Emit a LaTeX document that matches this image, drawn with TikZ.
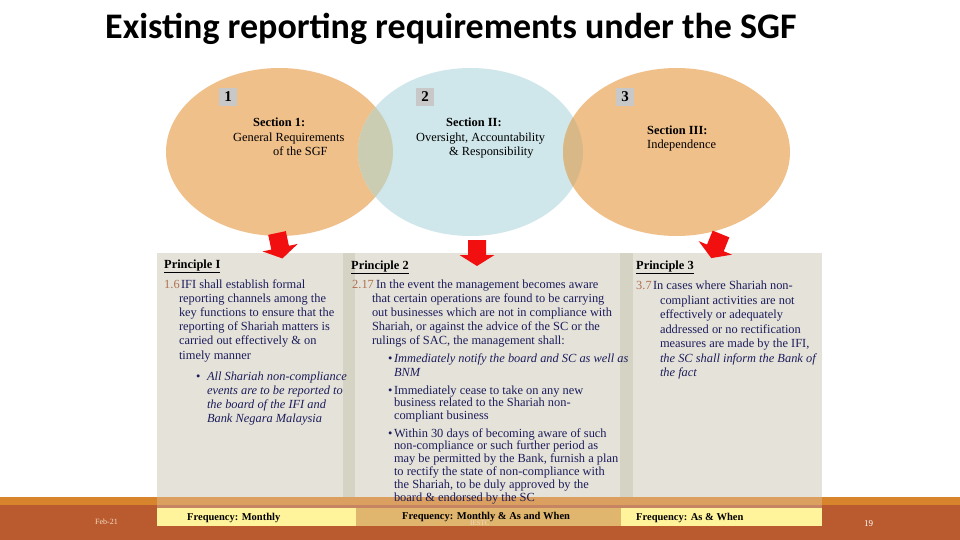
\documentclass[tikz,border=0pt]{standalone}
\usepackage{fontspec}
\setmainfont{Liberation Serif}
\newfontfamily\titlefont{Carlito}
\definecolor{ellorange}{HTML}{F0C08A}
\definecolor{ellblue}{HTML}{CFE7EB}
\definecolor{ovonetwo}{HTML}{CBCDB2}
\definecolor{ovtwothree}{HTML}{D8B886}
\definecolor{panelc}{HTML}{E5E3D9}
\definecolor{stripc}{HTML}{D5D3C4}
\definecolor{navy}{HTML}{1C1C5C}
\definecolor{numc}{HTML}{B07050}
\definecolor{orangebar}{HTML}{D8842C}
\definecolor{rustc}{HTML}{BA5B2F}
\definecolor{yelc}{HTML}{FFF49C}
\definecolor{tanc}{HTML}{E0B56E}
\definecolor{numbox}{HTML}{C8C8C8}
\definecolor{arrred}{HTML}{F20F0F}
\definecolor{creamc}{HTML}{F2DCC4}
\newcommand\bodyfont{\fontsize{12.4}{14.3}\selectfont}
\newcommand\stk[1]{\vtop{\halign{##\hfil\cr#1\crcr}}}
\tikzset{
  txt/.style={anchor=base west, inner sep=0pt, outer sep=0pt, text=navy, font=\bodyfont},
  itxt/.style={txt, font=\bodyfont\itshape},
  numtxt/.style={anchor=base west, inner sep=0pt, text=numc, font=\bodyfont},
  sect/.style={anchor=base west, inner sep=0pt, text=black, font=\fontsize{12.4}{14.3}\selectfont},
  princ/.style={anchor=base west, inner sep=0pt, text=black, font=\fontsize{12.4}{14.3}\selectfont\bfseries},
  freq/.style={anchor=base west, inner sep=0pt, text=black, font=\fontsize{10.5}{12}\selectfont\bfseries},
  numbadge/.style={fill=numbox, minimum width=18pt, minimum height=18pt, inner sep=0pt, font=\fontsize{15}{16}\selectfont\bfseries},
  blockarrow/.style={fill=arrred},
}
\begin{document}
\begin{tikzpicture}[x=1pt,y=-1pt]
\useasboundingbox (0,0) rectangle (960,540);
\fill[white] (0,0) rectangle (960,540);
% title
\node[anchor=base west, inner sep=0pt, font=\titlefont\bfseries\fontsize{36}{40}\selectfont] (title) at (105,39) {Existing reporting requirements under the SGF};
% ellipses
\fill[ellorange] (279.5,152) ellipse [x radius=113.5, y radius=84];
\fill[ellblue] (470.5,152) ellipse [x radius=112.5, y radius=84];
\fill[ellorange] (676.5,152) ellipse [x radius=113.5, y radius=84];
\begin{scope}
  \clip (279.5,152) ellipse [x radius=113.5, y radius=84];
  \fill[ovonetwo] (470.5,152) ellipse [x radius=112.5, y radius=84];
\end{scope}
\begin{scope}
  \clip (676.5,152) ellipse [x radius=113.5, y radius=84];
  \fill[ovtwothree] (470.5,152) ellipse [x radius=112.5, y radius=84];
\end{scope}
% number badges
\node[numbadge] (n1) at (228,97) {1};
\node[numbadge] (n2) at (425,97) {2};
\node[numbadge] (n3) at (625,97) {3};
% section texts
\node[sect, font=\fontsize{12.4}{14.3}\selectfont\bfseries] (s1a) at (253,127) {Section 1:};
\node[sect] (s1b) at (233,142) {General Requirements};
\node[sect] (s1c) at (273,156) {of the SGF};
\node[sect, font=\fontsize{12.4}{14.3}\selectfont\bfseries] (s2a) at (446,127) {Section II:};
\node[sect] (s2b) at (416,142) {Oversight, Accountability};
\node[sect] (s2c) at (449,156) {\& Responsibility};
\node[sect, font=\fontsize{12.4}{14.3}\selectfont\bfseries] (s3a) at (647,135) {Section III:};
\node[sect] (s3b) at (647,149) {Independence};
% footer bands
\fill[orangebar] (0,497) rectangle (960,505);
\fill[rustc] (0,505) rectangle (960,540);
% panel
\fill[panelc] (157,253) rectangle (822,497);
\fill[stripc] (343,253) rectangle (355,497);
\fill[stripc] (620,253) rectangle (633,497);
\fill[panelc, opacity=0.3] (157,497) rectangle (822,513);
% frequency boxes
\fill[yelc] (157,508) rectangle (356,526);
\fill[tanc] (356,508) rectangle (621,526);
\fill[yelc] (621,508) rectangle (822,526);
% arrows
\fill[blockarrow, shift={(277,233)}, rotate=12] (-9,0) -- (9,0) -- (9,15) -- (18,15) -- (0,26) -- (-18,15) -- (-9,15) -- cycle;
\fill[blockarrow, shift={(477,240)}] (-9,0) -- (9,0) -- (9,15) -- (17.5,15) -- (0,26) -- (-17.5,15) -- (-9,15) -- cycle;
\fill[blockarrow, shift={(721,234)}, rotate=-22] (-9,0) -- (9,0) -- (9,15) -- (18,15) -- (0,26) -- (-18,15) -- (-9,15) -- cycle;
% principle headings
\node[princ] (p1) at (164,268) {\underline{Principle I}};
\node[princ] (p2) at (351,269) {\underline{Principle 2}};
\node[princ] (p3) at (636,269) {\underline{Principle 3}};
% column 1
\node[numtxt] (c1n) at (164,288) {1.6};
\node[txt] (c1a) at (181,288) {IFI shall establish formal};
\node[txt] (c1b) at (179,302) {\stk{reporting channels among the\cr key functions to ensure that the\cr reporting of Shariah matters is\cr carried out effectively \& on\cr timely manner}};
\node[txt] (c1bul) at (196,380) {\textbullet};
\node[itxt] (c1c) at (207,380) {\stk{All Shariah non-compliance\cr events are to be reported to\cr the board of the IFI and\cr Bank Negara Malaysia}};
% column 2
\node[numtxt] (c2n) at (352,288) {2.17};
\node[txt] (c2a) at (376,288) {In the event the management becomes aware};
\node[txt] (c2b) at (372,302) {\stk{that certain operations are found to be carrying\cr out businesses which are not in compliance with\cr Shariah, or against the advice of the SC or the\cr rulings of SAC, the management shall:}};
\node[txt] (c2bul1) at (388,362) {\textbullet};
\node[itxt, font=\fontsize{12.4}{14}\selectfont\itshape] (c2c) at (394,362) {\stk{Immediately notify the board and SC as well as\cr BNM}};
\node[txt] (c2bul2) at (388,394) {\textbullet};
\node[txt, font=\fontsize{12.4}{12.5}\selectfont] (c2d) at (394,394) {\stk{Immediately cease to take on any new\cr business related to the Shariah non-\cr compliant business}};
\node[txt] (c2bul3) at (388,437) {\textbullet};
\node[txt, font=\fontsize{12.4}{12.8}\selectfont] (c2e) at (394,437) {\stk{Within 30 days of becoming aware of such\cr non-compliance or such further period as\cr may be permitted by the Bank, furnish a plan\cr to rectify the state of non-compliance with\cr the Shariah, to be duly approved by the\cr board \& endorsed by the SC}};
% column 3
\node[numtxt] (c3n) at (636,289) {3.7};
\node[txt] (c3a) at (653,289) {In cases where Shariah non-};
\node[txt, font=\fontsize{12.4}{14.5}\selectfont] (c3b) at (660,304) {\stk{compliant activities are not\cr effectively or adequately\cr addressed or no rectification\cr measures are made by the IFI,}};
\node[itxt, font=\fontsize{12.4}{14.5}\selectfont\itshape] (c3c) at (660,362) {\stk{the SC shall inform the Bank of\cr the fact}};
% footer texts
\node[freq] (f1) at (187,520) {Frequency: Monthly};
\node[freq] (f2) at (402,519) {Frequency: Monthly \& As and When};
\node[freq] (f3) at (636,520) {Frequency: As \& When};
\node[anchor=base west, inner sep=0pt, text=creamc, font=\fontsize{8}{9}\selectfont] (date) at (95,524) {Feb-21};
\node[anchor=base west, inner sep=0pt, text=creamc, font=\fontsize{7}{8}\selectfont] (org) at (470,525) {IESTC};
\node[anchor=base west, inner sep=0pt, text=white, font=\fontsize{9}{10}\selectfont] (page) at (864,526) {19};
\end{tikzpicture}
\end{document}
